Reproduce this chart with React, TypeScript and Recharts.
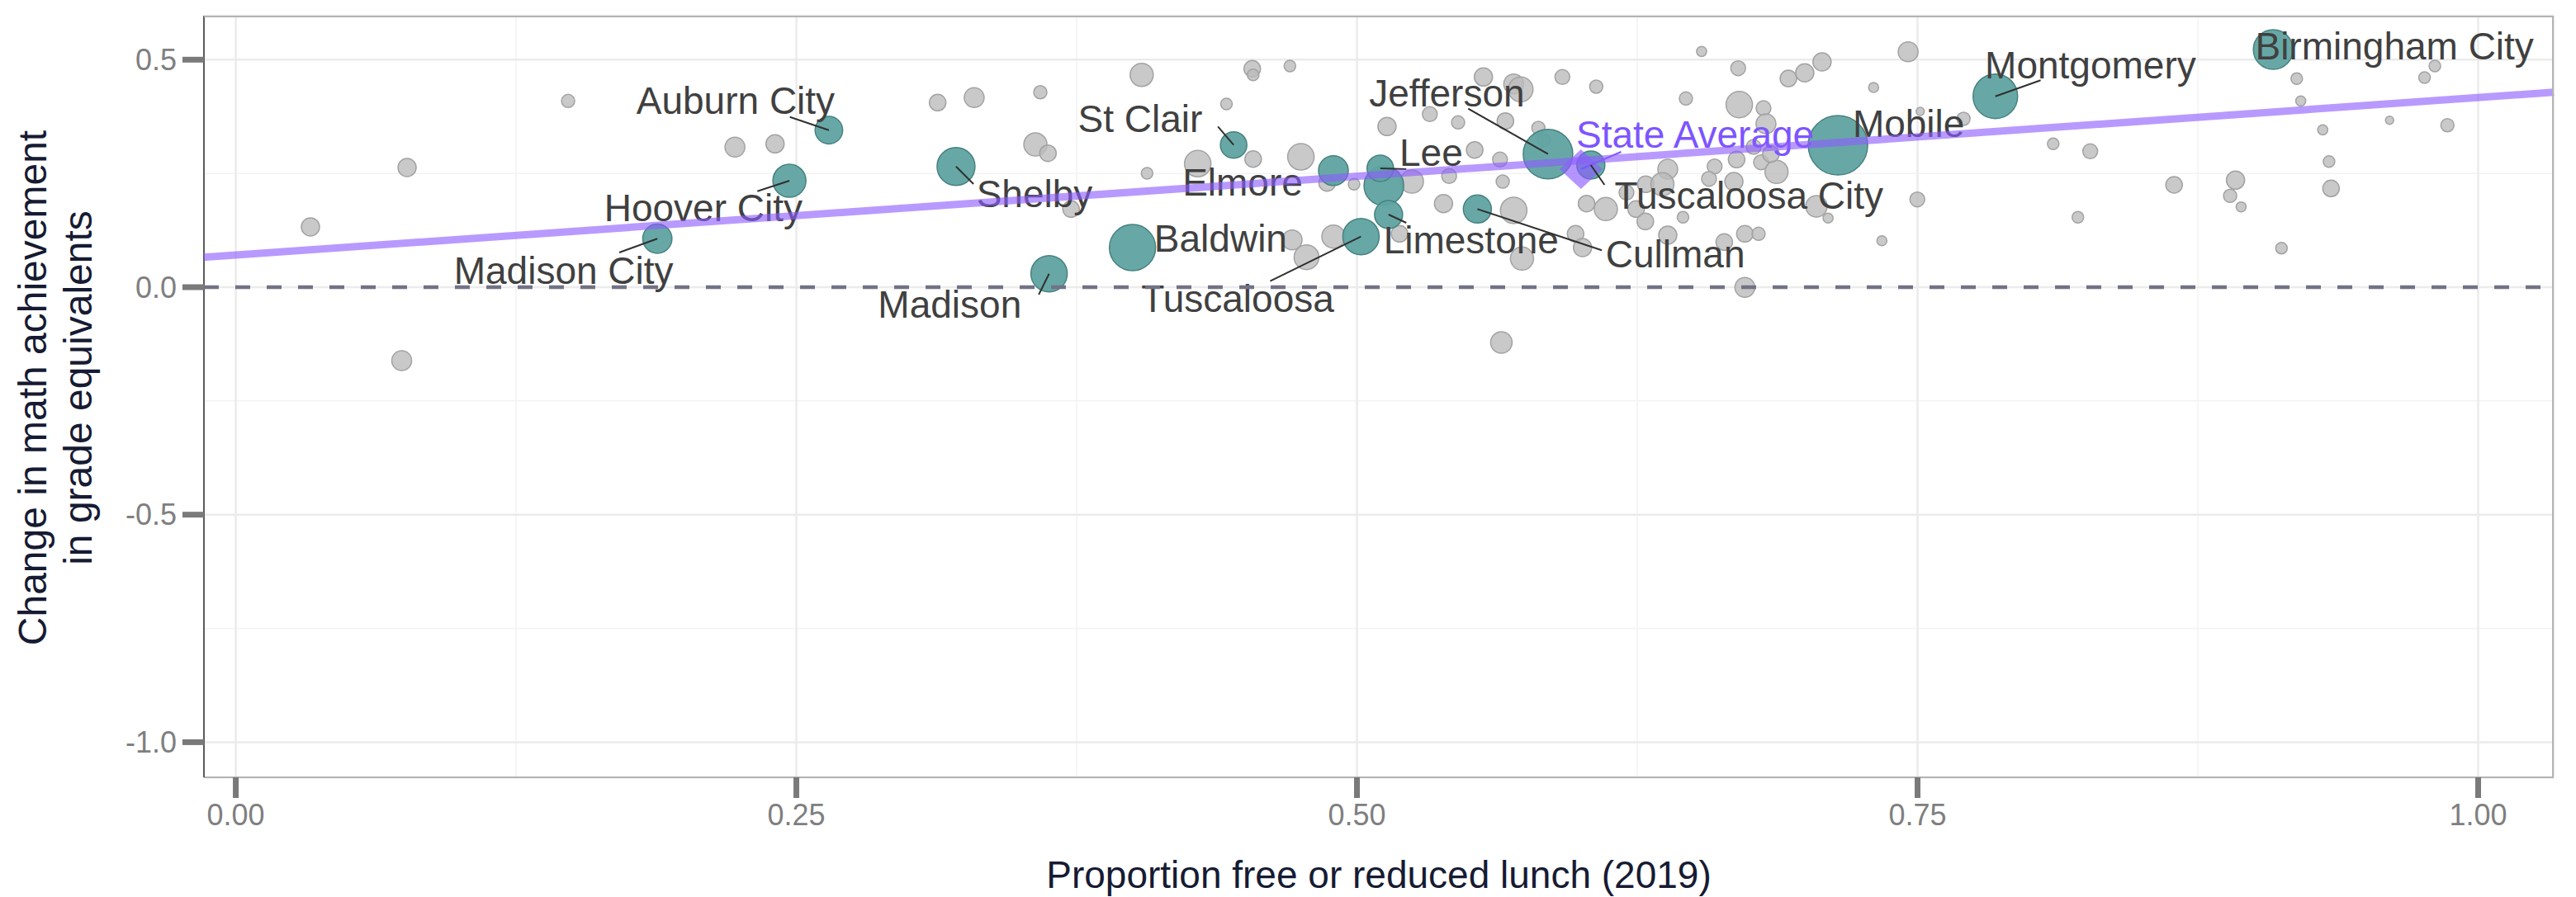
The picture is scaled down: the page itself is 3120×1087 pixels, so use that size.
import { CartesianGrid, ComposedChart, ReferenceLine, Scatter, XAxis, YAxis, ZAxis } from "recharts";

const W = 3120;
const H = 1087;
const FONT = '"Liberation Sans", Arial, Helvetica, sans-serif';

// axes
const xDomain = [-0.0142, 1.0337];
const yDomain = [-1.0773, 0.5967];
const xTicks = [0, 0.25, 0.5, 0.75, 1];
const yTicks = [-1, -0.5, 0, 0.5];
const xMinor = [0.125, 0.375, 0.625, 0.875];
const yMinor = [-0.75, -0.25, 0.25];

// all other districts: [free/reduced lunch share, change in grade equivalents, enrollment]
const otherDistricts: [number, number, number][] = [
  [0.1482, 0.4093, 2600], [0.0764, 0.263, 4950], [0.0333, 0.1324, 4950], [0.074, -0.1614, 5900],
  [0.2226, 0.3078, 5900], [0.2405, 0.315, 4950], [0.313, 0.4057, 4100], [0.3293, 0.4166, 5900],
  [0.3588, 0.4285, 2600], [0.404, 0.4666, 8000], [0.4533, 0.48, 4100], [0.4537, 0.4666, 2000],
  [0.4701, 0.486, 2000], [0.4418, 0.4026, 2000], [0.3566, 0.3137, 8000], [0.3622, 0.2943, 4100],
  [0.4537, 0.2816, 4100], [0.429, 0.2715, 10500], [0.4064, 0.2503, 2000], [0.475, 0.2865, 10500],
  [0.3725, 0.1717, 4100], [0.4711, 0.1039, 5900], [0.4775, 0.0658, 9200], [0.4895, 0.1112, 8000],
  [0.4867, 0.2291, 4100], [0.4987, 0.2262, 2000], [0.5564, 0.4619, 4950], [0.5699, 0.4467, 5900],
  [0.573, 0.4347, 9200], [0.5916, 0.4619, 3300], [0.6067, 0.4407, 2600], [0.6537, 0.5181, 1500],
  [0.67, 0.4811, 3300], [0.6467, 0.4148, 2600], [0.6705, 0.4013, 10500], [0.6813, 0.3935, 3300],
  [0.5134, 0.3531, 4950], [0.5325, 0.3803, 3300], [0.5451, 0.3622, 2600], [0.5662, 0.3651, 4100],
  [0.5809, 0.35, 2600], [0.5525, 0.3016, 4100], [0.5638, 0.2806, 3300], [0.5834, 0.3228, 2600],
  [0.5245, 0.2321, 8000], [0.5411, 0.2443, 3300], [0.565, 0.2321, 2600], [0.5386, 0.1837, 4950],
  [0.5699, 0.1687, 10500], [0.5736, 0.0629, 8000], [0.5975, 0.1173, 4100], [0.6006, 0.0871, 4950],
  [0.519, 0.1173, 4100], [0.5644, -0.1215, 6900], [0.6024, 0.1837, 4100], [0.611, 0.1717, 8000],
  [0.6245, 0.1717, 4100], [0.6286, 0.1445, 4100], [0.6202, 0.208, 3300], [0.6288, 0.2262, 4100],
  [0.6386, 0.2593, 5900], [0.6362, 0.2262, 8000], [0.6454, 0.1536, 2000], [0.6386, 0.1143, 4950],
  [0.6595, 0.2653, 3300], [0.657, 0.2381, 3300], [0.6693, 0.2806, 4100], [0.6681, 0.2321, 4950],
  [0.6769, 0.3083, 3300], [0.6802, 0.2744, 3300], [0.6638, 0.0992, 4100], [0.673, 0.1173, 4100],
  [0.6791, 0.1173, 2600], [0.673, -0.0005, 5900], [0.6824, 0.3591, 5900], [0.6924, 0.4588, 4100],
  [0.6997, 0.471, 4950], [0.7074, 0.4951, 4950], [0.7458, 0.5174, 5900], [0.7304, 0.4389, 1500],
  [0.7512, 0.3863, 1000], [0.7705, 0.37, 2600], [0.8105, 0.315, 2000], [0.827, 0.2987, 3300],
  [0.7499, 0.1928, 3300], [0.8215, 0.1536, 2000], [0.7341, 0.1021, 1500], [0.7049, 0.1777, 6900],
  [0.7101, 0.1518, 1500], [0.6871, 0.2534, 8000], [0.6846, 0.2925, 4100], [0.8644, 0.2249, 4100],
  [0.8918, 0.2352, 4950], [0.8894, 0.2008, 2600], [0.8943, 0.1765, 1500], [0.9123, 0.0858, 2000],
  [0.9191, 0.4583, 2000], [0.9209, 0.4093, 1500], [0.9307, 0.3458, 1500], [0.9335, 0.2762, 2000],
  [0.9344, 0.2171, 4100], [0.9605, 0.3669, 1000], [0.9761, 0.4606, 2000], [0.9807, 0.486, 2000],
  [0.9863, 0.356, 2600],
];

// largest districts, highlighted
const highlighted = [
  { name: "Auburn City", x: 0.2645, y: 0.3451, n: 11400 },
  { name: "Hoover City", x: 0.2469, y: 0.2339, n: 16400 },
  { name: "Madison City", x: 0.188, y: 0.1065, n: 12800 },
  { name: "Shelby", x: 0.3212, y: 0.2653, n: 21600 },
  { name: "Madison", x: 0.3627, y: 0.0296, n: 19800 },
  { name: "Baldwin", x: 0.3999, y: 0.0871, n: 32000 },
  { name: "St Clair", x: 0.445, y: 0.3125, n: 10500 },
  { name: "Elmore", x: 0.4895, y: 0.2563, n: 13300 },
  { name: "Huntsville City", x: 0.512, y: 0.2231, n: 23600 },
  { name: "Lee", x: 0.5104, y: 0.2612, n: 10500 },
  { name: "Limestone", x: 0.5141, y: 0.1596, n: 11800 },
  { name: "Tuscaloosa", x: 0.5018, y: 0.1112, n: 19800 },
  { name: "Cullman", x: 0.5537, y: 0.1717, n: 11800 },
  { name: "Jefferson", x: 0.5852, y: 0.2925, n: 36800 },
  { name: "Tuscaloosa City", x: 0.6043, y: 0.2684, n: 11800 },
  { name: "Mobile", x: 0.7145, y: 0.3119, n: 53000 },
  { name: "Montgomery", x: 0.7847, y: 0.4195, n: 29800 },
  { name: "Birmingham City", x: 0.9086, y: 0.5223, n: 23600 },
];

const stateAverage = { name: "State Average", x: 0.5999, y: 0.2593 };

// fitted line across all districts
const trend = { intercept: 0.0707, slope: 0.346 };

// repelled label spots in data units: [name, label x, label y, leader start x, leader start y]
const labelSpots: [string, number, number, number | null, number | null][] = [
  ["Auburn City", 0.2229, 0.4104, 0.2471, 0.3742],
  ["Hoover City", 0.2085, 0.1747, 0.2326, 0.2109],
  ["Madison City", 0.1462, 0.0381, 0.171, 0.0762],
  ["Shelby", 0.3562, 0.2067, 0.329, 0.2267],
  ["Madison", 0.3184, -0.0369, 0.3581, -0.0163],
  ["Baldwin", 0.4392, 0.1083, null, null],
  ["St Clair", 0.4033, 0.3712, 0.438, 0.3531],
  ["Elmore", 0.449, 0.2321, null, null],
  ["Tuscaloosa", 0.4468, -0.0248, 0.4613, 0.0132],
  ["Lee", 0.5331, 0.2974, 0.522, 0.2593],
  ["Limestone", 0.5509, 0.1039, 0.522, 0.1415],
  ["Jefferson", 0.5401, 0.4271, 0.5496, 0.3923],
  ["State Average", 0.6508, 0.3373, 0.6178, 0.2974],
  ["Tuscaloosa City", 0.6748, 0.2031, 0.6104, 0.2249],
  ["Cullman", 0.642, 0.0738, 0.6092, 0.0811],
  ["Mobile", 0.746, 0.3609, null, null],
  ["Montgomery", 0.8271, 0.4891, 0.8049, 0.4547],
  ["Birmingham City", 0.9627, 0.5314, null, null],
];

const PURPLE = "#7d55ff";

function Diamond(props: any) {
  const { cx, cy } = props;
  if (cx == null || cy == null) return null;
  return (
    <polygon
      points={`${cx},${cy - 24} ${cx + 26},${cy} ${cx},${cy + 24} ${cx - 26},${cy}`}
      fill="#8c5cff"
      fillOpacity={0.65}
    />
  );
}

function LabelText(props: any) {
  const { cx, cy, payload } = props;
  if (cx == null || cy == null) return null;
  const isState = payload.name === "State Average";
  return (
    <text
      x={cx}
      y={cy}
      dy="0.36em"
      textAnchor="middle"
      fontSize={46}
      fontFamily={FONT}
      fill={isState ? PURPLE : "#404040"}
    >
      {payload.name}
    </text>
  );
}

export default function App() {
  const gray = otherDistricts.map(([x, y, n]) => ({ x, y, n }));
  const labels = labelSpots.map(([name, x, y]) => ({ name, x, y, n: 0 }));
  const points: Record<string, { x: number; y: number }> = {};
  [...highlighted, stateAverage].forEach((d) => (points[d.name] = d));
  const [x0, x1] = xDomain;
  const tickStyle = { fill: "#7f7f7f", fontSize: 36, fontFamily: FONT };
  const tickLine = { stroke: "#7a7a7a", strokeWidth: 7 };

  return (
    <div style={{ position: "absolute", left: 0, top: 0, width: W, height: H, background: "#fff" }}>
      <ComposedChart width={W} height={H} margin={{ top: 19, right: 27, left: 0, bottom: 0 }}>
        <CartesianGrid horizontalValues={yMinor} verticalValues={xMinor} stroke="#f3f3f3" strokeWidth={1.5} />
        <CartesianGrid stroke="#ebebeb" strokeWidth={2.5} />
        <XAxis
          type="number"
          dataKey="x"
          domain={xDomain}
          allowDataOverflow
          ticks={xTicks}
          interval={0}
          tickFormatter={(v: number) => v.toFixed(2)}
          height={145}
          tickSize={25}
          tickMargin={7}
          tick={tickStyle}
          tickLine={tickLine}
          axisLine={{ stroke: "#b3b3b3", strokeWidth: 2 }}
        />
        <YAxis
          type="number"
          dataKey="y"
          domain={yDomain}
          allowDataOverflow
          ticks={yTicks}
          interval={0}
          tickFormatter={(v: number) => v.toFixed(1)}
          width={247}
          tickSize={26}
          tickMargin={7}
          tick={tickStyle}
          tickLine={tickLine}
          axisLine={{ stroke: "#5c5c5c", strokeWidth: 2 }}
        />
        <ZAxis type="number" dataKey="n" domain={[0, 60000]} range={[0, 4611]} />
        <Scatter
          data={gray}
          fill="#bcbcbc"
          fillOpacity={0.8}
          stroke="#a3a3a3"
          strokeWidth={1.5}
          isAnimationActive={false}
        />
        <Scatter
          data={highlighted}
          fill="#5fa3a1"
          fillOpacity={0.95}
          stroke="#46827f"
          strokeWidth={1.5}
          isAnimationActive={false}
        />
        <Scatter data={[stateAverage]} shape={Diamond} isAnimationActive={false} />
        {labelSpots
          .filter((l) => l[3] != null)
          .map(([name, , , sx, sy]) => (
            <ReferenceLine
              key={name}
              segment={[
                { x: sx as number, y: sy as number },
                { x: points[name].x, y: points[name].y },
              ]}
              stroke={name === "State Average" ? PURPLE : "#303030"}
              strokeWidth={2}
              zIndex={650}
            />
          ))}
        <Scatter data={labels} shape={LabelText} isAnimationActive={false} />
        <ReferenceLine
          segment={[
            { x: x0, y: trend.intercept + trend.slope * x0 },
            { x: x1, y: trend.intercept + trend.slope * x1 },
          ]}
          stroke="#8c5cff"
          strokeOpacity={0.62}
          strokeWidth={9}
          zIndex={700}
        />
        <ReferenceLine y={0} stroke="#727286" strokeWidth={4.5} strokeDasharray="18 20" zIndex={710} />
      </ComposedChart>
      <div
        style={{
          position: "absolute",
          left: 247,
          top: 19,
          width: 2846,
          height: 923,
          boxSizing: "border-box",
          borderTop: "2px solid #b3b3b3",
          borderRight: "2px solid #b3b3b3",
          pointerEvents: "none",
        }}
      />
      <svg width={W} height={H} style={{ position: "absolute", left: 0, top: 0, pointerEvents: "none" }}>
        <text x={1670} y={1076} textAnchor="middle" fontSize={46} fontFamily={FONT} fill="#161b33">
          Proportion free or reduced lunch (2019)
        </text>
        <text transform="translate(56, 470) rotate(-90)" textAnchor="middle" fontSize={48} fontFamily={FONT} fill="#161b33">
          Change in math achievement
        </text>
        <text transform="translate(111, 470) rotate(-90)" textAnchor="middle" fontSize={48} fontFamily={FONT} fill="#161b33">
          in grade equivalents
        </text>
      </svg>
    </div>
  );
}
